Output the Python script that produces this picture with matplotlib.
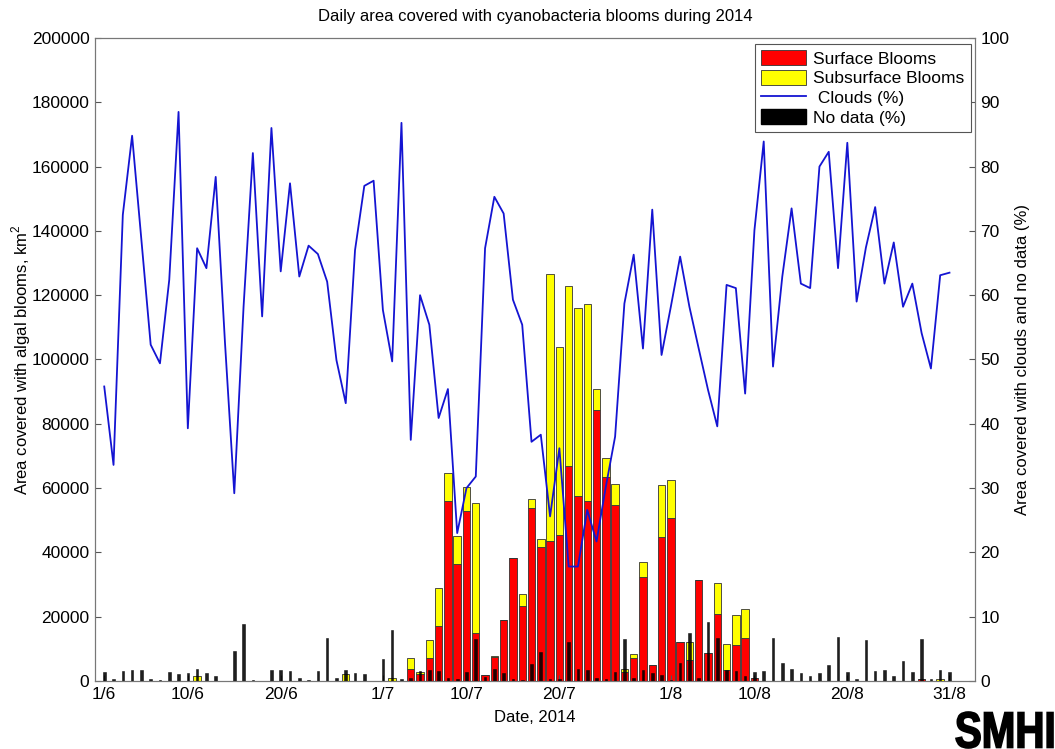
import matplotlib
matplotlib.use('Agg')
import matplotlib.pyplot as plt
from matplotlib.patches import Patch, PathPatch
from matplotlib.lines import Line2D
from matplotlib.textpath import TextPath
from matplotlib.font_manager import FontProperties
from matplotlib.transforms import Affine2D, IdentityTransform
import numpy as np

plt.rcParams['font.family'] = ['Liberation Sans', 'DejaVu Sans']
plt.rcParams['mathtext.fontset'] = 'custom'
plt.rcParams['mathtext.rm'] = 'Liberation Sans'

# days from 1/6/2014 (0) to 31/8/2014 (91)
days = np.arange(92)
tick_days = [0, 9, 19, 30, 39, 49, 61, 70, 80, 91]
tick_labels = ['1/6', '10/6', '20/6', '1/7', '10/7', '20/7', '1/8', '10/8', '20/8', '31/8']

# surface blooms, km2
surface = [0, 0, 0, 0, 0, 0, 0, 0, 0, 0,
           0, 0, 0, 0, 0, 0, 0, 0, 0, 0,
           0, 0, 0, 0, 0, 0, 0, 0, 0, 0,
           0, 0, 0, 3640, 2300, 7150, 17200, 56080, 36390, 52970,
           15020, 1950, 7420, 18900, 38150, 23420, 53900, 41770, 43630, 45500,
           66960, 57600, 55870, 84150, 63450, 54740, 2900, 7150, 32440, 4980,
           44880, 50790, 12100, 6600, 31400, 8600, 20950, 3420, 11200, 13400,
           840, 0, 0, 0, 0, 0, 0, 0, 0, 0,
           0, 0, 0, 0, 0, 0, 0, 0, 600, 0,
           0, 0]
# subsurface blooms, km2
subsurface = [0, 0, 0, 0, 0, 0, 0, 0, 0, 0,
              1550, 0, 0, 0, 0, 0, 0, 0, 0, 0,
              0, 0, 0, 0, 0, 0, 2070, 0, 0, 0,
              0, 830, 0, 3420, 600, 5490, 11630, 8700, 8710, 7270,
              40240, 0, 400, 200, 0, 3540, 2700, 2300, 82970, 58500,
              55890, 58500, 61280, 6650, 5810, 6530, 740, 1150, 4480, 0,
              16080, 11830, 0, 5600, 0, 0, 9620, 8140, 9200, 8900,
              0, 0, 0, 0, 0, 0, 0, 0, 0, 0,
              0, 0, 0, 0, 0, 0, 0, 0, 0, 0,
              500, 0]
# clouds, %
clouds = [45.8, 33.6, 72.5, 84.8, 68.6, 52.3, 49.4, 62.4, 88.5, 39.3,
          67.3, 64.2, 78.4, 52.6, 29.2, 58.2, 82.1, 56.7, 86.0, 63.7,
          77.4, 62.9, 67.7, 66.4, 62.1, 49.9, 43.2, 67.0, 77.0, 77.8,
          57.7, 49.7, 86.8, 37.5, 60.0, 55.4, 40.9, 45.4, 23.0, 30.0,
          31.8, 67.3, 75.3, 72.7, 59.3, 55.4, 37.2, 38.3, 25.6, 36.2,
          17.8, 17.8, 26.6, 21.7, 30.2, 38.0, 58.7, 66.3, 51.7, 73.3,
          50.7, 58.2, 66.0, 58.2, 51.7, 45.3, 39.6, 61.6, 61.1, 44.7,
          70.1, 83.9, 48.9, 62.9, 73.5, 61.8, 61.1, 80.0, 82.3, 64.2,
          83.7, 59.0, 67.4, 73.7, 61.8, 68.2, 58.2, 61.8, 54.1, 48.6,
          63.1, 63.5]
# no data, %
nodata = [1.4, 0.3, 1.55, 1.7, 1.65, 0.3, 0.15, 1.4, 1.1, 1.2,
          1.8, 1.2, 0.8, 0.05, 4.7, 8.8, 0.2, 0.05, 1.7, 1.7,
          1.55, 0.4, 0.15, 1.55, 6.7, 0.4, 1.7, 1.3, 1.1, 0.05,
          3.4, 8.0, 0.25, 0.4, 1.55, 1.7, 1.55, 0.4, 0.25, 1.45,
          6.6, 0.6, 1.8, 1.3, 0.25, 0.15, 2.6, 4.5, 0.25, 0.25,
          6.1, 1.8, 1.7, 0.5, 0.25, 1.45, 6.6, 0.5, 1.7, 1.3,
          0.9, 0.1, 2.85, 7.4, 0.4, 9.2, 6.7, 1.7, 1.6, 0.8,
          1.45, 1.55, 6.7, 2.75, 1.8, 1.2, 0.8, 1.3, 2.5, 6.8,
          1.4, 0.3, 6.3, 1.6, 1.7, 0.7, 3.1, 1.45, 6.6, 0.3,
          1.7, 1.35]

fig = plt.figure(figsize=(10.55, 7.49), dpi=100)
ax = fig.add_axes([0.090, 0.0908, 0.8342, 0.8585])
ax2 = ax.twinx()

ax.bar(days, surface, width=0.8, color='#ff0000', edgecolor='#333333', linewidth=0.6)
ax.bar(days, subsurface, width=0.8, bottom=surface, color='#ffff00',
       edgecolor='#333333', linewidth=0.6)

ax2.bar(days, nodata, width=0.28, color='black', edgecolor='black', linewidth=0.4, alpha=0.88)
ax2.plot(days, clouds, color='#1414d2', linewidth=1.3)

ax.set_xlim(-1.0, 93.75)
ax.set_ylim(0, 200000)
ax2.set_ylim(0, 100)
ax.set_yticks(np.arange(0, 200001, 20000))
ax2.set_yticks(np.arange(0, 101, 10))
ax.set_xticks(tick_days)
ax.set_xticklabels(tick_labels)

for a in (ax, ax2):
    a.tick_params(direction='in', length=4, labelsize=12.5, color='#555555', pad=4)
    for s in a.spines.values():
        s.set_color('#777777')

ax.set_title('Daily area covered with cyanobacteria blooms during 2014', fontsize=12, pad=12)
ax.set_xlabel('Date, 2014', fontsize=12, labelpad=6)
ax.set_ylabel('Area covered with algal blooms, km$^2$', fontsize=12, labelpad=-1)
ax2.set_ylabel('Area covered with clouds and no data (%)', fontsize=12, labelpad=4)

handles = [Patch(facecolor='#ff0000', edgecolor='#333333', linewidth=0.6),
           Patch(facecolor='#ffff00', edgecolor='#333333', linewidth=0.6),
           Line2D([], [], color='#1414d2', linewidth=1.3),
           Patch(facecolor='black', edgecolor='black')]
labels = ['Surface Blooms', 'Subsurface Blooms', ' Clouds (%)', 'No data (%)']
leg = ax2.legend(handles, labels, loc='upper right', bbox_to_anchor=(0.995, 0.99),
                 borderaxespad=0, fontsize=12.5, fancybox=False, framealpha=1,
                 edgecolor='#555555', handlelength=2.6, handleheight=0.9,
                 labelspacing=0.2, handletextpad=0.4, borderpad=0.35)
leg.get_frame().set_linewidth(0.8)

# SMHI logo, squeezed bold text in pixel coordinates
tp = TextPath((0, 0), 'SMHI', size=1, prop=FontProperties(family='Liberation Sans', weight='bold'))
ext = tp.get_extents()
sx = 97.0 / ext.width
sy = 36.0 / ext.height
tr = Affine2D().translate(-ext.x0, -ext.y0).scale(sx, sy).translate(956, 1)
logo = PathPatch(tr.transform_path(tp), facecolor='black', edgecolor='black', linewidth=1.2,
                 transform=IdentityTransform())
fig.add_artist(logo)

fig.savefig('out.png', dpi=100)
